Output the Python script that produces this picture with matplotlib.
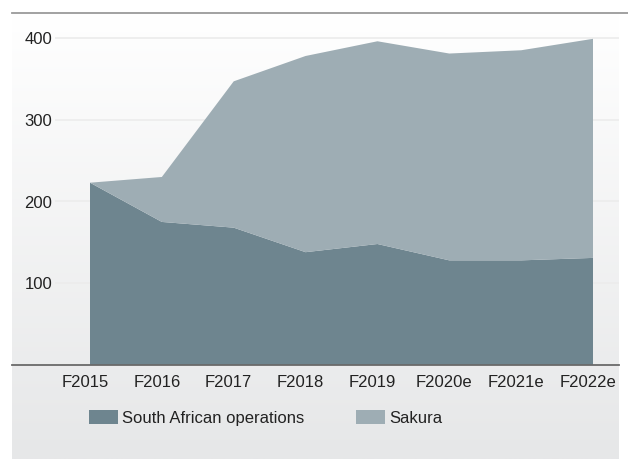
import numpy as np
import matplotlib
matplotlib.use("Agg")
import matplotlib.pyplot as plt
from matplotlib.lines import Line2D
from matplotlib.patches import Patch

plt.rcParams['font.family'] = ['Liberation Sans', 'DejaVu Sans']

years = ["F2015", "F2016", "F2017", "F2018", "F2019", "F2020e", "F2021e", "F2022e"]
south_african = [223, 175, 168, 138, 148, 128, 128, 131]
sakura = [0, 55, 179, 240, 248, 253, 257, 268]
y_ticks = [100, 200, 300, 400]

dark = "#6e858f"
light = "#9eadb4"
text_col = "#222222"
fs = 12

W, H, DPI = 628, 459, 100
fig = plt.figure(figsize=(W / DPI, H / DPI), dpi=DPI)

# pixel helpers (origin top-left)
def fx(px):
    return px / W

def fy(py):
    return 1 - py / H

# soft vertical gradient panel behind the chart
bg = fig.add_axes([fx(12), 0, fx(619) - fx(12), fy(13)], zorder=0)
grad = np.linspace(0, 1, 256).reshape(-1, 1)
top_c = np.array([255, 255, 255]) / 255
bot_c = np.array([230, 231, 232]) / 255
img = top_c[None, None, :] * (1 - grad[:, :, None]) + bot_c[None, None, :] * grad[:, :, None]
bg.imshow(img, aspect="auto", extent=[0, 1, 0, 1], origin="upper")
bg.set_axis_off()

ax = fig.add_axes([fx(12), fy(365), fx(619) - fx(12), fy(13) - fy(365)], zorder=1)
ax.patch.set_alpha(0)

x = np.arange(len(years))
unit = (593 - 90) / 7
x_left = (12 - 90) / unit
x_right = (619 - 90) / unit
y_top = (365 - 13) / (365 - 38) * 400
ax.set_xlim(x_left, x_right)
ax.set_ylim(0, y_top)

# light gridlines starting just right of the value labels
grid_start = (55 - 90) / unit
ax.hlines(y_ticks, grid_start, x_right, color="#ececec", linewidth=1.2, zorder=1)

ax.stackplot(x, south_african, sakura, colors=[dark, light], linewidth=0, zorder=2)

for s in ["top", "right", "left"]:
    ax.spines[s].set_visible(False)
ax.spines["bottom"].set_color("#6a6a6a")
ax.spines["bottom"].set_linewidth(1.3)
ax.spines["bottom"].set_zorder(3)

ax.set_yticks(y_ticks)
ax.set_yticklabels([str(v) for v in y_ticks])
ax.tick_params(axis="y", length=0, pad=-40 * 72 / DPI, labelsize=fs, labelcolor=text_col)
ax.set_xticks(x - 0.07)
ax.set_xticklabels(years)
ax.tick_params(axis="x", length=0, pad=7.5, labelsize=fs, labelcolor=text_col)

# thin rule across the top of the chart
fig.add_artist(Line2D([fx(12), 1], [fy(13), fy(13)], color="#9a9a9a", linewidth=1.3))

handles = [Patch(facecolor=dark, edgecolor="none", label="South African operations"),
           Patch(facecolor=light, edgecolor="none", label="Sakura")]
fig.legend(handles=handles, loc="center left", bbox_to_anchor=(fx(89), fy(418)),
           ncol=2, frameon=False, fontsize=fs, borderpad=0, borderaxespad=0,
           handlelength=1.75, handleheight=0.85,
           handletextpad=0.25, columnspacing=3.1, labelcolor=text_col)

fig.savefig("out.png", dpi=DPI)
